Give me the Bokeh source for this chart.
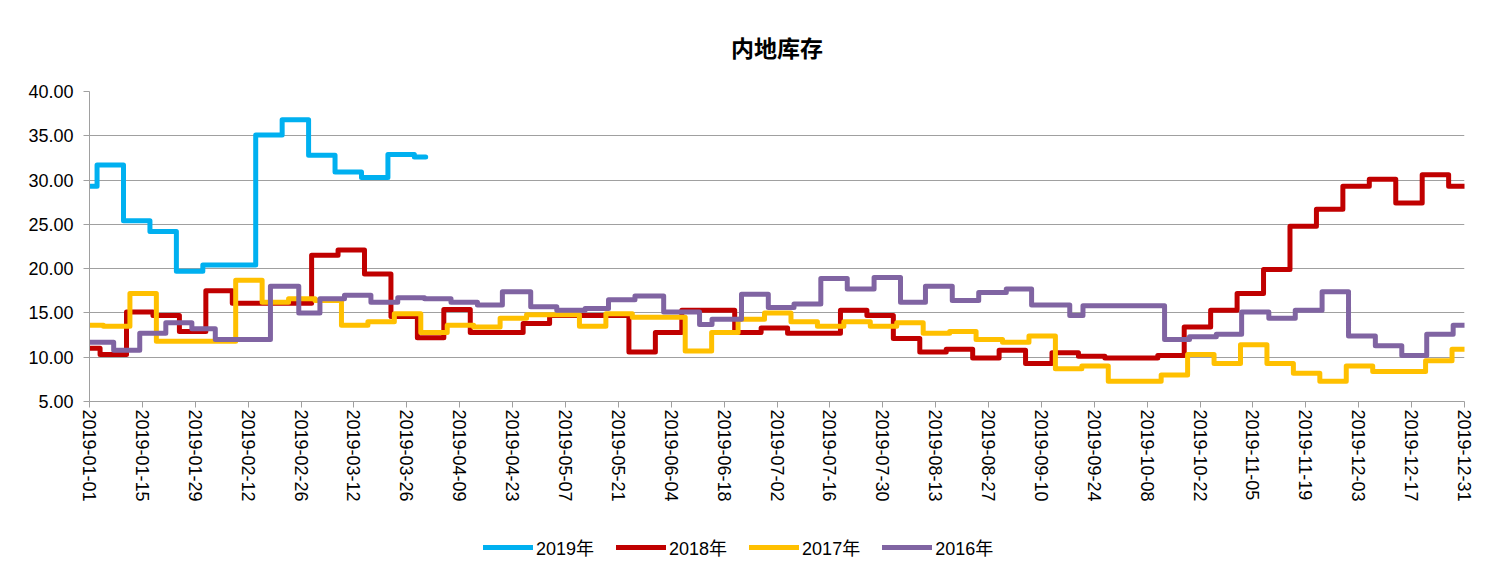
import numpy as np
import pandas as pd
from bokeh.plotting import figure
from bokeh.layouts import column
from bokeh.models import (Range1d, FixedTicker, NumeralTickFormatter, DatetimeTickFormatter,
                          Legend, LegendItem)
from bokeh.embed import file_html
from bokeh.resources import INLINE

START = pd.Timestamp("2019-01-01")
END = pd.Timestamp("2019-12-31")
END_DAY = 364

series_names = ["2019年", "2018年", "2017年", "2016年"]
series_colors = ["#00B0F0", "#C00000", "#FFC000", "#8064A2"]

# 2019: days (since 2019-01-01) at which the weekly value changes, and the values
y2019_days = [0, 2, 9, 16, 23, 30, 44, 51, 58, 65, 72, 79, 86]
y2019_vals = [29.3, 31.7, 25.4, 24.2, 19.7, 20.4, 35.1, 36.8, 32.8, 30.9, 30.3, 32.9, 32.6]
y2019_end = 89

# 2018: weekly values; first change on day 2.8, then every 7 days
y2018_first = 2.8
y2018_vals = [11.0, 10.3, 15.1, 14.7, 12.9, 17.5, 16.1, 16.1, 16.1, 21.5, 22.1, 19.4, 14.6,
              12.2, 15.4, 12.8, 12.8, 13.8, 14.7, 14.7, 14.7, 10.6, 12.8, 15.3, 15.3, 12.8,
              13.3, 12.7, 12.7, 15.3, 14.7, 12.1, 10.6, 10.9, 9.9, 10.8, 9.3, 10.5, 10.1,
              9.9, 9.9, 10.2, 13.4, 15.3, 17.2, 19.9, 24.8, 26.7, 29.3, 30.1, 27.4, 30.6, 29.3]

# 2017: weekly values; first change on day 3.7, then every 7 days
y2017_first = 3.7
y2017_vals = [13.6, 13.5, 17.2, 11.8, 11.8, 11.8, 18.7, 16.2, 16.6, 16.4, 13.6, 14.0, 14.9,
              12.8, 13.6, 13.4, 14.4, 14.8, 14.8, 13.5, 14.9, 14.5, 14.5, 10.7, 12.8, 14.3,
              15.0, 14.0, 13.5, 14.0, 13.5, 13.9, 12.7, 12.9, 12.0, 11.7, 12.4, 8.7, 9.0,
              7.3, 7.3, 8.0, 10.3, 9.3, 11.4, 9.3, 8.2, 7.3, 9.0, 8.4, 8.4, 9.6, 10.9]

# 2016: change days and values
y2016_days = [0, 6.4, 13.3, 20.2, 27.1, 33.3, 47.9, 55.4, 61, 67.5, 74.5, 81.6, 88.7, 95.7,
              102.7, 109.3, 116.8, 123.7, 131.2, 137.4, 144.4, 152, 161.5, 164.8, 172.6,
              179.7, 186.5, 193.6, 200.6, 207.7, 214.7, 221.3, 228.4, 235.4, 242.7, 249.4,
              259.5, 263, 284.6, 291.2, 298.3, 305, 312.2, 319.2, 326.3, 333.3, 340.4,
              347.4, 354, 361]
y2016_vals = [11.7, 10.8, 12.7, 13.9, 13.2, 12.0, 18.0, 15.0, 16.6, 17.0, 16.2, 16.7, 16.6,
              16.2, 15.9, 17.4, 15.7, 15.3, 15.5, 16.5, 16.9, 15.1, 13.7, 14.3, 17.1, 15.6,
              16.0, 18.9, 17.7, 19.0, 16.2, 18.0, 16.4, 17.3, 17.7, 15.9, 14.7, 15.8, 12.0,
              12.3, 12.6, 15.1, 14.4, 15.3, 17.4, 12.4, 11.3, 10.2, 12.6, 13.6]

y_ticks = [5, 10, 15, 20, 25, 30, 35, 40]
x_tick_dates = pd.date_range(START, END, freq="14D")

FONT = "Liberation Sans, Noto Sans CJK SC"


def weekly_days(first, n):
    return [0] + [first + 7 * k for k in range(n - 1)]


def to_xy(days, vals, end):
    d = list(days) + [end]
    v = list(vals) + [vals[-1]]
    x = START + pd.to_timedelta(np.array(d, dtype=float), unit="D")
    return x, v


data = [
    to_xy(y2019_days, y2019_vals, y2019_end),
    to_xy(weekly_days(y2018_first, len(y2018_vals)), y2018_vals, END_DAY),
    to_xy(weekly_days(y2017_first, len(y2017_vals)), y2017_vals, END_DAY),
    to_xy(y2016_days, y2016_vals, END_DAY),
]

p = figure(width=1477, height=520, x_axis_type="datetime",
           x_range=Range1d(START, END), y_range=Range1d(5, 40),
           output_backend="svg", toolbar_location=None,
           min_border_left=89, min_border_right=13, min_border_top=91, min_border_bottom=119)

p.title.text = "内地库存"
p.title.align = "center"
p.title.text_font = "Noto Sans CJK SC"
p.title.text_font_size = "23px"
p.title.text_font_style = "bold"
p.title.text_color = "#000000"
p.title.standoff = 55

p.outline_line_color = None
p.background_fill_color = "white"
p.border_fill_color = "white"

# grids
p.xgrid.grid_line_color = None
p.ygrid.grid_line_color = "#A0A0A0"
p.ygrid.grid_line_width = 1

# y axis
p.yaxis.ticker = FixedTicker(ticks=y_ticks)
p.yaxis.formatter = NumeralTickFormatter(format="0.00")
p.yaxis.axis_line_color = "#A0A0A0"
p.yaxis.major_tick_line_color = "#A0A0A0"
p.yaxis.major_tick_out = 6
p.yaxis.major_tick_in = 0
p.yaxis.minor_tick_line_color = None
p.yaxis.major_label_text_font = FONT
p.yaxis.major_label_text_font_size = "18px"
p.yaxis.major_label_text_color = "#000000"
p.yaxis.major_label_standoff = 10

# x axis
p.xaxis.ticker = FixedTicker(ticks=[d.value // 10**6 for d in x_tick_dates])
fmt = "%Y-%m-%d"
p.xaxis.formatter = DatetimeTickFormatter(days=fmt, months=fmt, years=fmt, hours=fmt,
                                          minutes=fmt, seconds=fmt, milliseconds=fmt,
                                          microseconds=fmt, minsec=fmt, hourmin=fmt)
p.xaxis.major_label_orientation = "vertical"
p.xaxis.axis_line_color = "#A0A0A0"
p.xaxis.major_tick_line_color = "#A0A0A0"
p.xaxis.major_tick_out = 6
p.xaxis.major_tick_in = 0
p.xaxis.minor_tick_line_color = None
p.xaxis.major_label_text_font = FONT
p.xaxis.major_label_text_font_size = "18px"
p.xaxis.major_label_text_color = "#000000"
p.xaxis.major_label_standoff = 2

for (x, y), color in zip(data, series_colors):
    p.step(x=x, y=y, mode="after", line_color=color, line_width=5,
           line_join="round", line_cap="round")

# legend strip below the chart (its series sit outside its visible range)
lf = figure(width=1477, height=50, output_backend="svg", toolbar_location=None,
            x_axis_location=None, y_axis_location=None, min_border=0,
            x_range=Range1d(START, END), y_range=Range1d(1000, 1001))
lf.outline_line_color = None
lf.grid.visible = False
items = []
for (x, y), name, color in zip(data, series_names, series_colors):
    r = lf.step(x=x, y=y, mode="after", line_color=color, line_width=5, line_cap="round")
    items.append(LegendItem(label=name, renderers=[r]))
legend = Legend(items=items, orientation="horizontal", location=(394, 10),
                glyph_width=50, glyph_height=20, label_standoff=3, spacing=22,
                padding=5, margin=0, border_line_color=None, background_fill_alpha=0,
                label_text_font=FONT, label_text_font_size="18px",
                label_text_color="#000000")
lf.add_layout(legend, "center")

layout = column(p, lf, spacing=0)
open("out.html", "w").write(file_html(layout, INLINE))
